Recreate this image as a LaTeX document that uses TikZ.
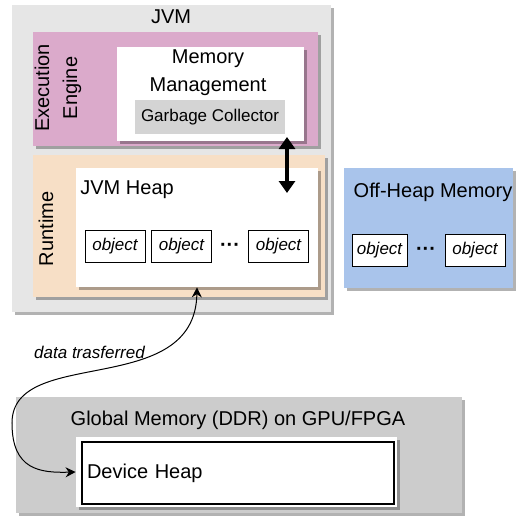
\documentclass[tikz,border=0pt]{standalone}
\usepackage{fontspec}
\setmainfont{Liberation Sans}
\usetikzlibrary{arrows.meta,shadows}
\definecolor{jvmgray}{HTML}{E6E6E6}
\definecolor{enginepink}{HTML}{DBAACB}
\definecolor{runtimepeach}{HTML}{F7DFC6}
\definecolor{offheapblue}{HTML}{A9C4EB}
\definecolor{gcgray}{HTML}{D4D4D4}
\definecolor{globalgray}{HTML}{CCCCCC}
\tikzset{
    shadowed/.style={drop shadow={shadow xshift=1.5pt, shadow yshift=-1.5pt, fill=black, opacity=0.3}},
    objbox/.style={rectangle, draw, fill=white, line width=0.5pt, minimum width=30pt, minimum height=16pt, inner sep=1pt, font=\fontsize{8.5}{10}\selectfont\itshape},
    boxtext/.style={font=\fontsize{10}{14}\selectfont, inner sep=0pt},
}
\begin{document}
\begin{tikzpicture}[x=0.5pt, y=-0.5pt]
    \useasboundingbox (0,0) rectangle (517,519);
    \begin{scope}[every node/.style={rectangle, inner sep=0pt, shadowed}]
        \node[fill=jvmgray, minimum width=159.5pt, minimum height=153.5pt] (jvm) at (171.5,158.5) {};
        \node[fill=enginepink, minimum width=142.5pt, minimum height=57pt] (engine) at (175.5,89) {};
        \node[fill=white, minimum width=93.5pt, minimum height=47pt] (memmgmt) at (210.5,94) {};
        \node[fill=runtimepeach, minimum width=146pt, minimum height=71pt] (runtime) at (179,226) {};
        \node[fill=white, minimum width=121pt, minimum height=59.5pt] (heap) at (197,227.5) {};
        \node[fill=offheapblue, minimum width=84.5pt, minimum height=60pt] (offheap) at (428.5,228) {};
        \node[fill=globalgray, minimum width=223pt, minimum height=58pt] (global) at (239,455) {};
        \node[fill=white, minimum width=160.5pt, minimum height=35pt] (devframe) at (236.5,472) {};
    \end{scope}
    \node[fill=gcgray, minimum width=75pt, minimum height=17pt, inner sep=0pt, font=\fontsize{8.5}{10}\selectfont] (gc) at (210,117) {Garbage Collector};
    \node[draw, line width=0.6pt, fill=white, text width=151pt, inner xsep=2.5pt, inner ysep=0pt, minimum height=31pt, align=left, font=\fontsize{10}{12}\selectfont] (device) at (238,473) {Device Heap};
    \begin{scope}[every node/.style={boxtext}]
        \node (jvmtext) at (171,16.5) {JVM};
        \node[rotate=90, align=center] (enginetext) at (58,88) {Execution\\Engine};
        \node[align=center] (memtext) at (208,73) {Memory\\Management};
        \node[rotate=90] (runtimetext) at (46,229) {Runtime};
        \node[anchor=west] (heaptext) at (80,189.5) {JVM Heap};
        \node (offheaptext) at (433,192) {Off-Heap Memory};
        \node (globaltext) at (238,420) {Global Memory (DDR) on GPU/FPGA};
    \end{scope}
    \begin{scope}[every node/.style={objbox}]
        \node (obj1) at (115,246) {object};
        \node (obj2) at (181.5,246) {object};
        \node (obj3) at (278.5,246) {object};
        \node[minimum width=27.5pt] (offobj1) at (379.5,250.5) {object};
        \node (offobj2) at (475,250.5) {object};
    \end{scope}
    \node[boxtext, font=\fontsize{10}{12}\selectfont\bfseries] (dots1) at (230,247) {···};
    \node[boxtext, font=\fontsize{10}{12}\selectfont\bfseries] (dots2) at (426,251) {···};
    \node[inner sep=0pt, font=\fontsize{8.5}{10}\selectfont\itshape] (transfer) at (89.5,352.5) {data trasferred};
    \coordinate (gctop) at (287,137);
    \coordinate (heaptop) at (287,193);
    \path [{Triangle[width=8pt,length=6pt]}-{Triangle[width=8pt,length=6pt]}, line width=2pt] (gctop) edge (heaptop);
    \draw [{Stealth[width=5pt,length=5pt]}-{Stealth[width=5pt,length=5pt]}, line width=0.5pt] (heap.south) .. controls (195,400) and (12,345) .. (12,423) .. controls (12,470) and (40,473) .. (devframe.west);
\end{tikzpicture}
\end{document}
